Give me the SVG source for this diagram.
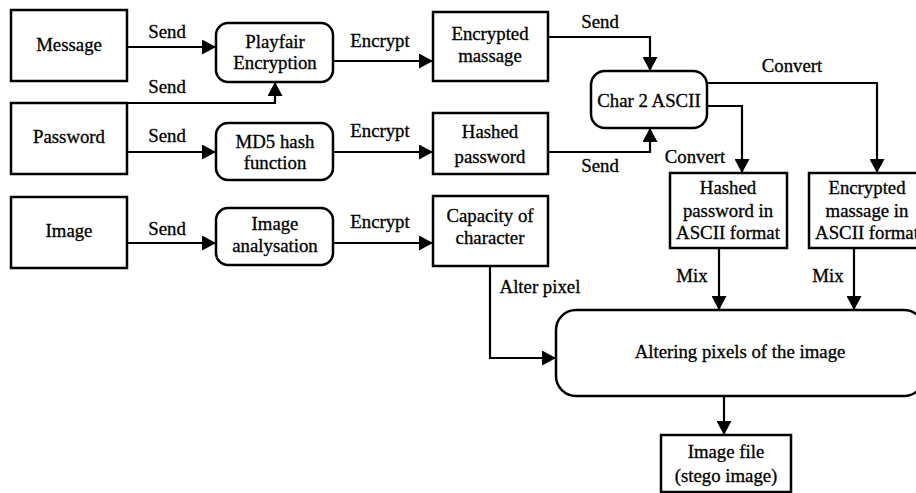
<svg xmlns="http://www.w3.org/2000/svg" width="916" height="493" viewBox="0 0 916 493">
<defs>
<marker id="ah" markerWidth="14" markerHeight="15" refX="14" refY="7.5" orient="auto" markerUnits="userSpaceOnUse">
<path d="M0,0 L14,7.5 L0,15 z" fill="#000"/>
</marker>
<style>
.box{fill:#fff;stroke:#000;stroke-width:2.5}
text{font-size:18.8px;fill:#000;text-anchor:middle;stroke:#000;stroke-width:0.3}
.c{fill:none;stroke:#000;stroke-width:2.2;marker-end:url(#ah)}
</style>
</defs>
<rect width="916" height="493" fill="#fff"/>
<g id="connectors" font-family="Liberation Serif, serif">
<path class="c" d="M127,47 H216"/>
<path class="c" d="M333,61 H433"/>
<path class="c" d="M127,103 H275 V82"/>
<path class="c" d="M127,152 H216"/>
<path class="c" d="M333,152 H433"/>
<path class="c" d="M127,243 H216"/>
<path class="c" d="M333,243 H433"/>
<path class="c" d="M548,37 H650 V71"/>
<path class="c" d="M548,152 H650 V128"/>
<path class="c" d="M707,83 H877 V173"/>
<path class="c" d="M707,106 H742 V173"/>
<path class="c" d="M719,248 V310"/>
<path class="c" d="M854,248 V310"/>
<path class="c" d="M490,266 V358 H556"/>
<path class="c" d="M724,396 V435"/>
<text x="167" y="38">Send</text>
<text x="380" y="47">Encrypt</text>
<text x="167" y="93">Send</text>
<text x="167" y="142">Send</text>
<text x="380" y="137">Encrypt</text>
<text x="167" y="235">Send</text>
<text x="380" y="228">Encrypt</text>
<text x="600" y="28">Send</text>
<text x="600" y="172">Send</text>
<text x="792" y="72">Convert</text>
<text x="695" y="163">Convert</text>
<text x="692" y="282">Mix</text>
<text x="828" y="282">Mix</text>
<text x="540" y="293">Alter pixel</text>
</g>
<g font-family="Liberation Serif, serif">
<g id="message"><rect class="box" x="11" y="10" width="116" height="71"/><text x="69" y="51">Message</text></g>
<g id="password"><rect class="box" x="11" y="103" width="116" height="71"/><text x="69" y="143">Password</text></g>
<g id="image"><rect class="box" x="11" y="197" width="116" height="71"/><text x="69" y="237">Image</text></g>
<g id="playfair"><rect class="box" x="216" y="23" width="117" height="59" rx="12"/><text x="275" y="48">Playfair</text><text x="275" y="69">Encryption</text></g>
<g id="md5"><rect class="box" x="216" y="123" width="117" height="57" rx="12"/><text x="275" y="148">MD5 hash</text><text x="275" y="169">function</text></g>
<g id="analysation"><rect class="box" x="216" y="208" width="117" height="57" rx="12"/><text x="275" y="230">Image</text><text x="275" y="252">analysation</text></g>
<g id="encrypted"><rect class="box" x="433" y="12" width="115" height="69"/><text x="490" y="40">Encrypted</text><text x="490" y="62">massage</text></g>
<g id="hashed"><rect class="box" x="433" y="113" width="115" height="61"/><text x="490" y="138">Hashed</text><text x="490" y="163">password</text></g>
<g id="capacity"><rect class="box" x="433" y="196" width="115" height="70"/><text x="490" y="222">Capacity of</text><text x="490" y="244">character</text></g>
<g id="char2ascii"><rect class="box" x="591" y="71" width="116" height="57" rx="14"/><text x="649" y="107">Char 2 ASCII</text></g>
<g id="hashedascii"><rect class="box" x="670" y="173" width="117" height="75"/><text x="728" y="194">Hashed</text><text x="728" y="217">password in</text><text x="728" y="239">ASCII format</text></g>
<g id="encascii"><rect class="box" x="809" y="173" width="117" height="75"/><text x="867" y="194">Encrypted</text><text x="867" y="217">massage in</text><text x="867" y="239">ASCII format</text></g>
<g id="altering"><rect class="box" x="556" y="310" width="368" height="86" rx="20"/><text x="740" y="358">Altering pixels of the image</text></g>
<g id="imagefile"><rect class="box" x="661" y="435" width="130" height="57"/><text x="726" y="458">Image file</text><text x="726" y="482">(stego image)</text></g>
</g>
</svg>
